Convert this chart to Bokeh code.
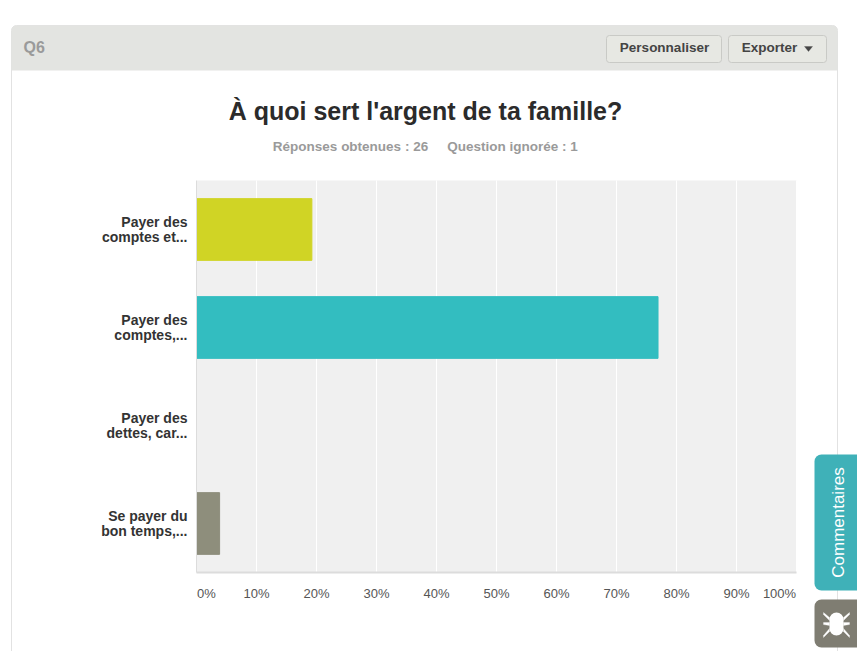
from bokeh.plotting import figure
from bokeh.models import (BoxAnnotation, ColumnDataSource, FixedTicker, Label,
                          PolyAnnotation, Range1d)
from bokeh.embed import file_html
from bokeh.resources import INLINE

categories = ["Payer des\ncomptes et...", "Payer des\ncomptes,...",
              "Payer des\ndettes, car...", "Se payer du\nbon temps,..."]
percent = [19.23, 76.92, 0.0, 3.85]
colors = ["#d0d425", "#33bdc0", "#33bdc0", "#8e8e7c"]
tick_values = [0, 10, 20, 30, 40, 50, 60, 70, 80, 90, 100]
tick_labels = ["0%", "10%", "20%", "30%", "40%", "50%", "60%", "70%", "80%", "90%", "100%"]
FONT = "Liberation Sans"
W, H = 857, 651

# The frame fills the page so that panel, buttons and tabs are not clipped.
# Value 0..100 spans pixels 196..796, categories are 98 pixels apart from pixel 229.
p = figure(width=W, height=H, output_backend="svg", toolbar_location=None,
           x_range=Range1d(-196 / 6, (W - 196) / 6),
           y_range=Range1d((H - 229) / 98, -229 / 98),
           min_border=0, min_border_left=0, min_border_right=0, min_border_top=0, min_border_bottom=0,
           background_fill_color="#ffffff", border_fill_color="#ffffff", outline_line_color=None)
p.grid.visible = False

rows = list(range(len(categories)))
src = ColumnDataSource(dict(y=rows, right=percent, color=colors))
p.segment(x0=tick_values, x1=tick_values, y0=-0.5, y1=len(rows) - 0.5, line_color="#ffffff", line_width=1)
p.hbar(y="y", left=0, right="right", height=0.63, color="color", source=src)

ax = p.xaxis[0]
ax.fixed_location = len(rows) - 0.5
ax.bounds = (0, 100)
ax.ticker = FixedTicker(ticks=tick_values)
ax.major_label_overrides = {t: (l if 0 < t < 100 else " ") for t, l in zip(tick_values, tick_labels)}
ax.major_tick_line_color = None
ax.minor_tick_line_color = None
ax.major_tick_out = 0
ax.major_tick_in = 0
ax.axis_line_color = "#dcdcdc"
ax.axis_line_width = 2
ax.major_label_standoff = 13
ax.major_label_text_font = FONT
ax.major_label_text_font_size = "13px"
ax.major_label_text_color = "#555555"

ay = p.yaxis[0]
ay.fixed_location = 0
ay.bounds = (-0.5, len(rows) - 0.5)
ay.ticker = FixedTicker(ticks=rows)
ay.major_label_overrides = dict(zip(rows, categories))
ay.major_tick_line_color = None
ay.minor_tick_line_color = None
ay.major_tick_out = 0
ay.major_tick_in = 0
ay.axis_line_color = "#dcdcdc"
ay.axis_line_width = 1
ay.major_label_standoff = 9
ay.major_label_text_font = FONT
ay.major_label_text_font_style = "bold"
ay.major_label_text_font_size = "14px"
ay.major_label_text_color = "#333333"
ay.major_label_text_line_height = 0.97


def box(l, t, r, b, fill, line=None, radius=0, level="underlay"):
    p.add_layout(BoxAnnotation(left=l, right=r, top=H - t, bottom=H - b,
                               left_units="screen", right_units="screen", top_units="screen", bottom_units="screen",
                               fill_color=fill, fill_alpha=1, line_color=line, line_alpha=1 if line else 0,
                               border_radius=radius, level=level, editable=False))


def text(x, y, s, size, color, style="normal", align="center", angle=0):
    p.add_layout(Label(x=x, y=H - y, x_units="screen", y_units="screen", text=s, text_font=FONT,
                       text_font_size=size, text_color=color, text_font_style=style, text_align=align,
                       text_baseline="middle", angle=angle))


def poly(xs, ys, fill):
    p.add_layout(PolyAnnotation(xs=xs, ys=[H - y for y in ys],
                                xs_units="screen", ys_units="screen", fill_color=fill, fill_alpha=1,
                                line_color=fill, line_width=1, level="annotation", editable=False))


# survey panel
box(11, 25, 837, 700, "#ffffff", "#e2e2e2", 5)
box(11, 25, 837, 70, "#e3e4e1", None, {"top_left": 5, "top_right": 5, "bottom_left": 0, "bottom_right": 0})
text(23, 47, "Q6", "16px", "#9a9a9a", "bold", "left")
box(606, 35, 721, 62, "#e7e8e3", "#c9cac6", 3)
text(664, 47, "Personnaliser", "13.5px", "#444444", "bold")
box(728, 35, 826, 62, "#e7e8e3", "#c9cac6", 3)
text(769, 47, "Exporter", "13.5px", "#444444", "bold")
poly([804, 812, 808], [46, 46, 51], "#444444")

text(425, 110, "À quoi sert l'argent de ta famille?", "25px", "#2b2b2b", "bold")
text(350, 146, "Réponses obtenues : 26", "13.5px", "#9a9a9a", "bold")
text(512, 146, "Question ignorée : 1", "13.5px", "#9a9a9a", "bold")

# plot background
p.add_layout(BoxAnnotation(left=0, right=100, top=-0.5, bottom=len(rows) - 0.5, fill_color="#f0f0f0",
                           fill_alpha=1, line_alpha=0, level="underlay", editable=False))

# end tick labels, kept inside the plot width as in the original
text(206, 593, tick_labels[0], "13px", "#555555")
text(779, 593, tick_labels[-1], "13px", "#555555")

# side tabs
box(814, 454, 870, 590, "#3fb1b8", None, 7)
text(838, 522, "Commentaires", "17px", "#ffffff", angle=1.5708)
box(814, 599, 870, 647, "#7f7d72", None, 7)
box(829, 612, 843, 635, "#ffffff", None, 7, "annotation")
for sx, ex in ((829, 823), (843, 849)):
    poly([sx, ex, ex, sx], [617, 612, 614, 620], "#ffffff")
    poly([sx, ex, ex, sx], [622, 622, 624, 625], "#ffffff")
    poly([sx, ex, ex, sx], [628, 635, 637, 631], "#ffffff")

open("out.html", "w").write(file_html(p, INLINE))
